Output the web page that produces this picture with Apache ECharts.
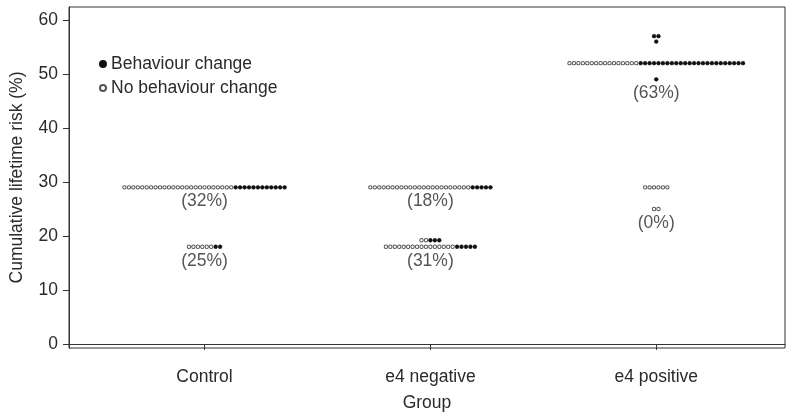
<!DOCTYPE html>
<html>
<head>
<meta charset="utf-8">
<script src="https://cdn.jsdelivr.net/npm/echarts@6/dist/echarts.min.js"></script>
<style>html,body{margin:0;padding:0;background:#fff}#c{width:800px;height:420px}</style>
</head>
<body>
<div id="c"></div>
<script>
// Categories
var groups = ['Control', 'e4 negative', 'e4 positive'];
// Rows of dots: group index, risk (%), number without change (open), number with change (filled)
var rowGroup  = [0, 0, 1, 1, 1, 2, 2, 2, 2, 2, 2];
var rowRisk   = [29, 18, 29, 19.2, 18, 57, 56, 52, 49, 29, 25];
var rowOpen   = [25, 6, 23, 2, 16, 0, 0, 16, 0, 6, 2];
var rowFilled = [12, 2, 5, 3, 5, 2, 1, 24, 1, 0, 0];
// Percentage labels (behaviour change share) per cluster
var pctGroup = [0, 0, 1, 1, 2, 2];
var pctRisk  = [29, 18, 29, 18, 49, 25];
var pctText  = ['(32%)', '(25%)', '(18%)', '(31%)', '(63%)', '(0%)'];
var yTicks = [0, 10, 20, 30, 40, 50, 60];

var step = 0.0197; // horizontal spacing between stacked dots (axis units)
var openPts = [], filledPts = [];
for (var i = 0; i < rowRisk.length; i++) {
  var n = rowOpen[i] + rowFilled[i];
  var c = rowGroup[i] + 1;
  for (var k = 0; k < n; k++) {
    var x = c + (k - (n - 1) / 2) * step;
    if (k < rowOpen[i]) openPts.push([x, rowRisk[i]]);
    else filledPts.push([x, rowRisk[i]]);
  }
}
var labelPts = pctText.map(function (t, i) { return [pctGroup[i] + 1, pctRisk[i], t]; });

var font = 'Liberation Sans, Arial, Helvetica, sans-serif';
var txt = '#2a2a2a';
var chart = echarts.init(document.getElementById('c'), null, {renderer: 'canvas'});
chart.setOption({
  animation: false,
  backgroundColor: '#fff',
  textStyle: {fontFamily: font},
  grid: {left: 63, top: 7, right: 15, bottom: 72, show: true, borderColor: '#333', borderWidth: 1, backgroundColor: 'transparent'},
  legend: {
    orient: 'vertical', left: 94, top: 50, itemGap: 6, itemWidth: 6, itemHeight: 6,
    icon: 'circle',
    data: ['Behaviour change', 'No behaviour change'],
    textStyle: {fontSize: 17.5, color: txt, fontFamily: font}
  },
  xAxis: {
    type: 'value', min: 0.4, max: 3.57,
    name: 'Group', nameLocation: 'middle', nameGap: 46,
    nameTextStyle: {fontSize: 17.5, color: txt},
    axisLine: {show: true, lineStyle: {color: '#333'}},
    splitLine: {show: false},
    axisTick: {show: true, length: 6, customValues: [1, 2, 3], lineStyle: {color: '#333'}},
    axisLabel: {customValues: [1, 2, 3], margin: 20, fontSize: 17.5, color: txt,
      formatter: function (v) { return groups[Math.round(v) - 1]; }}
  },
  yAxis: {
    type: 'value', min: -0.75, max: 62.4,
    name: 'Cumulative lifetime risk (%)', nameLocation: 'middle', nameGap: 43,
    nameTextStyle: {fontSize: 17.5, color: txt},
    axisLine: {show: true, lineStyle: {color: '#333'}},
    splitLine: {show: false},
    axisTick: {show: true, length: 6, customValues: yTicks, lineStyle: {color: '#333'}},
    axisLabel: {customValues: yTicks, margin: 11, fontSize: 17.5, color: txt}
  },
  series: [
    {name: 'Behaviour change', type: 'scatter', symbol: 'circle', symbolSize: 3.8,
     itemStyle: {color: '#111', borderColor: '#111', borderWidth: 0.5, opacity: 1},
     data: filledPts, z: 3},
    {name: 'No behaviour change', type: 'scatter', symbol: 'circle', symbolSize: 3.4,
     itemStyle: {color: '#fff', borderColor: '#555', borderWidth: 1, opacity: 1},
     data: openPts, z: 3},
    {name: 'pct', type: 'scatter', symbolSize: 0, silent: true,
     data: labelPts,
     label: {show: true, position: 'bottom', distance: 5, fontSize: 17.5, color: txt,
       formatter: function (p) { return p.value[2]; }}}
  ]
});
</script>
</body>
</html>
